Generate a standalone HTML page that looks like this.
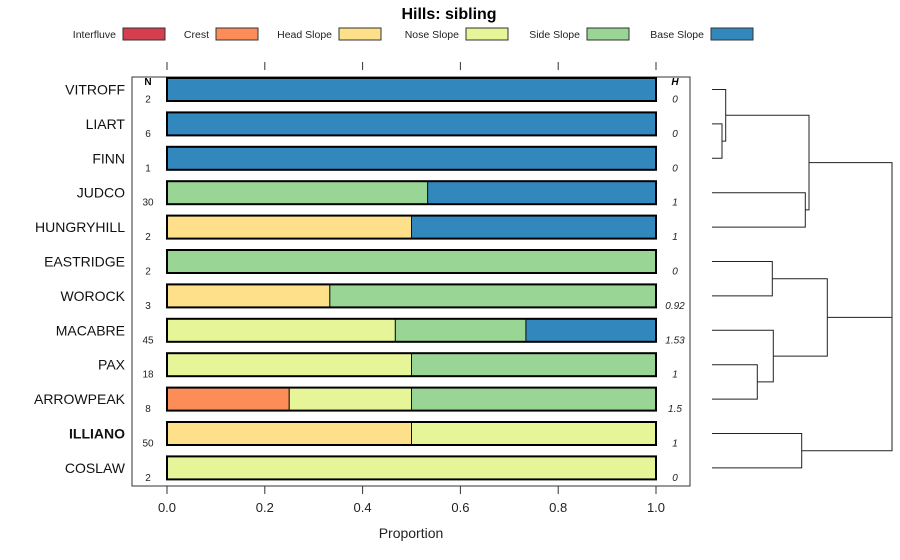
<!DOCTYPE html>
<html><head><meta charset="utf-8"><style>
body{margin:0;background:#fff;}
svg{display:block;font-family:"Liberation Sans",sans-serif;}
</style></head><body>
<svg id="chart" width="900" height="560">
<text x="449" y="19" text-anchor="middle" font-size="16" font-weight="bold">Hills: sibling</text>
<g id="legend"></g>
<rect x="132" y="77" width="558" height="409" fill="none" stroke="#333" stroke-width="1"/>
<g id="bars"></g>
<g id="axis"></g>
<g id="dendro" stroke="#222" stroke-width="1" fill="none"></g>
<text x="411" y="538" text-anchor="middle" font-size="14" fill="#222">Proportion</text>
<text x="148" y="85" text-anchor="middle" font-size="10" font-weight="bold">N</text>
<text x="675" y="85" text-anchor="middle" font-size="10" font-weight="bold" font-style="italic">H</text>
</svg>
<script>
const classes = ["Interfluve","Crest","Head Slope","Nose Slope","Side Slope","Base Slope"];
const colors = ["#d53e4f","#fc8d59","#fee08b","#e6f598","#99d594","#3288bd"];
const series = ["VITROFF","LIART","FINN","JUDCO","HUNGRYHILL","EASTRIDGE","WOROCK","MACABRE","PAX","ARROWPEAK","ILLIANO","COSLAW"];
const props = [
 [0,0,0,0,0,1],[0,0,0,0,0,1],[0,0,0,0,0,1],
 [0,0,0,0,0.533,0.467],[0,0,0.5,0,0,0.5],[0,0,0,0,1,0],
 [0,0,0.333,0,0.667,0],[0,0,0,0.467,0.267,0.267],[0,0,0,0.5,0.5,0],
 [0,0.25,0,0.25,0.5,0],[0,0,0.5,0.5,0,0],[0,0,0,1,0,0]];
const nVals = ["2","6","1","30","2","2","3","45","18","8","50","2"];
const hVals = ["0","0","0","1","1","0","0.92","1.53","1","1.5","1","0"];
const ticks = [0,0.2,0.4,0.6,0.8,1.0];
const tickLabels = ["0.0","0.2","0.4","0.6","0.8","1.0"];
const NS="http://www.w3.org/2000/svg";
const xs = v => 167 + v*489;
const ys = i => 89.5 + i*34.4;
function mk(tag, attrs, parent){const e=document.createElementNS(NS,tag);for(const k in attrs)e.setAttribute(k,attrs[k]);parent.appendChild(e);return e;}
const lg=document.getElementById('legend');
const lgX=[116,209,332,459,580,704];
classes.forEach((c,i)=>{
  const t=mk('text',{x:lgX[i],y:38,'text-anchor':'end','font-size':10.5,fill:'#222'},lg);t.textContent=c;
  
  
  const r=mk('rect',{x:lgX[i]+7,y:28,width:42,height:12,fill:colors[i],stroke:'#333'},lg);
  
  
});
const ax=document.getElementById('axis');
ticks.forEach((t,i)=>{
  mk('line',{x1:xs(t),x2:xs(t),y1:62,y2:70,stroke:'#333'},ax);
  mk('line',{x1:xs(t),x2:xs(t),y1:486,y2:494,stroke:'#333'},ax);
  const tx=mk('text',{x:xs(t),y:512,'text-anchor':'middle','font-size':13,fill:'#222'},ax);tx.textContent=tickLabels[i];
  
  
});
const bg=document.getElementById('bars');
series.forEach((s,i)=>{
  const y=ys(i);
  const lab=mk('text',{x:125,y:y+5,'text-anchor':'end','font-size':14,fill:'#111','font-weight':s==='ILLIANO'?'bold':'normal'},bg);lab.textContent=s;
  
  
  let acc=0;
  props[i].forEach((p,k)=>{
    if(p<=0)return;
    const r=mk('rect',{x:xs(acc),y:y-11.5,width:xs(acc+p)-xs(acc),height:23,fill:colors[k],stroke:'#111','stroke-width':1},bg);
    
    
    acc+=p;
  });
  mk('rect',{x:xs(0),y:y-11.5,width:xs(1)-xs(0),height:23,fill:'none',stroke:'#000','stroke-width':2},bg);
  const n=mk('text',{x:148,y:y+13,'text-anchor':'middle','font-size':10,fill:'#222'},bg);n.textContent=nVals[i];
  
  
  const h=mk('text',{x:675,y:y+13,'text-anchor':'middle','font-size':10,'font-style':'italic',fill:'#222'},bg);h.textContent=hVals[i];
  
  
});
const dg=document.getElementById('dendro');
const L=712;
function join(ya,xa,yb,xb,xj){
  const p='M'+xa+' '+ya+'H'+xj+'V'+yb+'H'+xb;
  mk('path',{d:p},dg);
  return (ya+yb)/2;
}
const a=join(ys(1),L,ys(2),L,722);
const b=join(ys(0),L,a,722,725.7);
const c=join(ys(3),L,ys(4),L,805.3);
const d=join(b,725.7,c,805.3,809);
const e=join(ys(5),L,ys(6),L,772.3);
const f=join(ys(8),L,ys(9),L,757.3);
const g=join(ys(7),L,f,757.3,773.3);
const h=join(e,772.3,g,773.3,827.3);
const i2=join(ys(10),L,ys(11),L,801.7);
const j=join(d,809,h,827.3,892);
join(j,892,i2,801.7,892);
</script>
</body></html>
